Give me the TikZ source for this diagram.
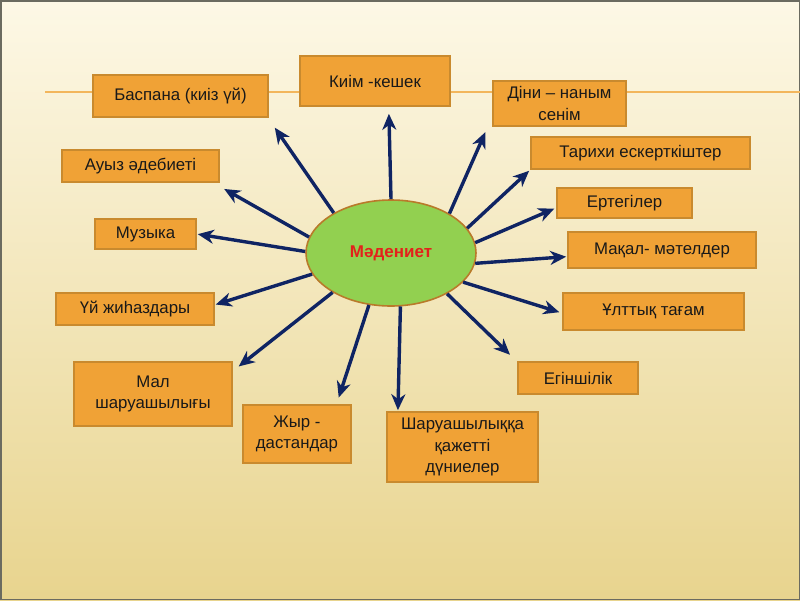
\documentclass[tikz,border=0pt]{standalone}
\usepackage{fontspec}
\setmainfont{Liberation Sans}
\usetikzlibrary{arrows.meta, shapes.geometric}
\definecolor{naranjaCaja}{HTML}{F0A236}
\definecolor{bordeCaja}{HTML}{C98A2E}
\definecolor{verdeCentro}{HTML}{92D050}
\definecolor{bordeCentro}{HTML}{B97A2A}
\definecolor{azulFlecha}{HTML}{0F2463}
\definecolor{rojoTexto}{HTML}{E3211B}
\definecolor{fondoClaro}{HTML}{FDF8E6}
\definecolor{fondoOscuro}{HTML}{E8D48E}
\definecolor{lineaNaranja}{HTML}{F3B65C}
\definecolor{marcoGris}{HTML}{6B6B60}
\tikzset{
  cajaTema/.style={
    draw=bordeCaja, line width=1.6pt, fill=naranjaCaja,
    inner sep=0pt, align=center, text=black!90,
    font=\fontsize{16.8}{21.7}\selectfont
  },
  centroTema/.style={
    ellipse, draw=bordeCentro, line width=1.6pt, fill=verdeCentro,
    minimum width=170pt, minimum height=106pt, inner sep=0pt,
    font=\fontsize{17}{20}\selectfont\bfseries, text=rojoTexto
  },
  flecha/.style={-{Stealth[length=16pt, width=14pt, inset=5pt]},
    line width=3.4pt, azulFlecha},
}

\begin{document}
\begin{tikzpicture}[x=1pt, y=-1pt]
    \useasboundingbox (0,0) rectangle (800,600);
    \shade[top color=fondoClaro, bottom color=fondoOscuro] (0,0) rectangle (800,600);
    \draw[marcoGris, line width=1.5pt] (0.75,0.75) rectangle (799.25,599.25);
    \draw[lineaNaranja, line width=2pt] (45,92) -- (800,92);

    \node[centroTema] (cultura) at (391,253) {Мәдениет};

    \node[cajaTema, minimum width=175pt, minimum height=42pt] (baspana) at (180.5,96) {Баспана (киіз үй)};
    \node[cajaTema, minimum width=150pt, minimum height=50pt] (kiim) at (375,81) {Киім -кешек};
    \node[cajaTema, minimum width=133pt, minimum height=45pt] (dini) at (559.5,103.5) {Діни – наным\\сенім};
    \node[cajaTema, minimum width=219pt, minimum height=32pt] (tarihi) at (640.5,153) {Тарихи ескерткіштер};
    \node[cajaTema, minimum width=157pt, minimum height=32pt] (auyz) at (140.5,166) {Ауыз әдебиеті};
    \node[cajaTema, minimum width=135pt, minimum height=30pt] (ertegiler) at (624.5,203) {Ертегілер};
    \node[cajaTema, minimum width=101pt, minimum height=30pt] (muzyka) at (145.5,234) {Музыка};
    \node[cajaTema, minimum width=188pt, minimum height=36pt] (makal) at (662,250) {Мақал- мәтелдер};
    \node[cajaTema, minimum width=158pt, minimum height=32pt] (jihaz) at (135,309) {Үй жиһаздары};
    \node[cajaTema, minimum width=181pt, minimum height=37pt] (tagam) at (653.5,311.5) {Ұлттық тағам};
    \node[cajaTema, minimum width=158pt, minimum height=64pt] (mal) at (153,394) {Мал\\шаруашылығы};
    \node[cajaTema, minimum width=120pt, minimum height=32pt] (egin) at (578,378) {Егіншілік};
    \node[cajaTema, minimum width=108pt, minimum height=58pt] (zhyr) at (297,434) {Жыр -\\дастандар};
    \node[cajaTema, minimum width=151pt, minimum height=70pt] (qajet) at (462.5,447) {Шаруашылыққа\\қажетті\\дүниелер};

    \draw[flecha, shorten >=12pt] (cultura.145) -- (baspana.-14);
    \draw[flecha, shorten >=7pt] (cultura.90) -- (kiim.-62);
    \draw[flecha, shorten >=17pt] (cultura.34) -- (dini.191);
    \draw[flecha, shorten >=1.5pt] (cultura.18) -- (tarihi.south west);
    \draw[flecha, shorten >=2pt] (cultura.7) -- (ertegiler.184);
    \draw[flecha, shorten >=1pt] (cultura.-7.5) -- (makal.184);
    \draw[flecha, shorten >=3pt] (cultura.-22) -- (tagam.181);
    \draw[flecha, shorten >=10pt] (cultura.-36.5) -- (egin.165);
    \draw[flecha, shorten >=1pt] (cultura.-80) -- (qajet.151);
    \draw[flecha, shorten >=7pt] (cultura.-113) -- (zhyr.37);
    \draw[flecha, shorten >=7.5pt] (cultura.214.5) -- (mal.16);
    \draw[flecha, shorten >=1pt] (cultura.195.5) -- (jihaz.3);
    \draw[flecha, shorten >=1pt] (cultura.179) -- (muzyka.east);
    \draw[flecha, shorten >=12.5pt] (cultura.169.5) -- (auyz.-13);
  \end{tikzpicture}
\end{document}
